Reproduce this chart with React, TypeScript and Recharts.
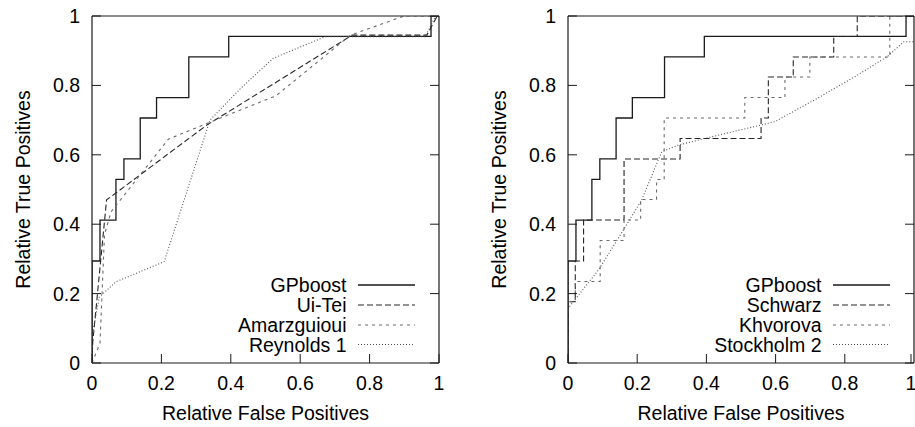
import React from 'react';
import { LineChart, Line, XAxis, YAxis, Legend } from 'recharts';

const TICKS = [0, 0.2, 0.4, 0.6, 0.8, 1];
const TICK_LABELS = ['0', '0.2', '0.4', '0.6', '0.8', '1'];

// [relative false positives, relative true positives]
const gpboost = [
  [0, 0], [0, 0.294], [0.023, 0.294], [0.023, 0.412], [0.069, 0.412], [0.069, 0.529],
  [0.092, 0.529], [0.092, 0.588], [0.139, 0.588], [0.139, 0.706], [0.186, 0.706],
  [0.186, 0.765], [0.279, 0.765], [0.279, 0.882], [0.394, 0.882], [0.394, 0.941],
  [0.977, 0.941], [0.977, 1], [1, 1],
];
const uiTei = [
  [0, 0], [0.002, 0.058], [0.042, 0.47], [0.33, 0.685], [0.75, 0.945],
  [0.965, 0.945], [0.995, 1], [1, 1],
];
const amarzguioui = [
  [0, 0], [0.023, 0.057], [0.036, 0.37], [0.055, 0.436], [0.22, 0.645], [0.33, 0.69],
  [0.53, 0.77], [0.745, 0.945], [0.9, 1], [1, 1],
];
const reynolds1 = [
  [0, 0], [0, 0.076], [0.021, 0.19], [0.069, 0.234], [0.208, 0.292], [0.34, 0.7],
  [0.427, 0.79], [0.522, 0.878], [0.671, 0.94], [0.96, 0.94], [0.99, 1], [1, 1],
];
const schwarz = [
  [0, 0], [0, 0.177], [0.021, 0.177], [0.021, 0.294], [0.045, 0.294], [0.045, 0.412],
  [0.162, 0.412], [0.162, 0.588], [0.324, 0.588], [0.324, 0.647], [0.558, 0.647],
  [0.558, 0.706], [0.579, 0.706], [0.579, 0.824], [0.651, 0.824], [0.651, 0.882],
  [0.768, 0.882], [0.768, 0.941], [0.836, 0.941], [0.836, 1], [1, 1],
];
const khvorova = [
  [0, 0], [0, 0.177], [0.021, 0.177], [0.021, 0.235], [0.093, 0.235], [0.093, 0.353],
  [0.162, 0.353], [0.162, 0.412], [0.21, 0.412], [0.21, 0.471], [0.256, 0.471],
  [0.256, 0.529], [0.278, 0.529], [0.278, 0.706], [0.511, 0.706], [0.511, 0.765],
  [0.627, 0.765], [0.627, 0.824], [0.699, 0.824], [0.699, 0.882], [0.93, 0.882],
  [0.93, 1], [1, 1],
];
const stockholm2 = [
  [0, 0], [0, 0.157], [0.088, 0.268], [0.16, 0.383], [0.213, 0.47], [0.271, 0.609],
  [0.319, 0.628], [0.415, 0.652], [0.597, 0.695], [0.712, 0.758], [0.837, 0.83],
  [0.923, 0.883], [0.971, 0.926], [1, 0.926],
];

const FONT = '"Liberation Sans", Arial, Helvetica, sans-serif';
const FS = 19.5;
const AXIS = '#1a1a1a';
const TICK_LEN = 9;

const STYLES: Record<string, { stroke: string; strokeWidth: number; strokeDasharray?: string }> = {
  solid: { stroke: '#1a1a1a', strokeWidth: 1.3 },
  dash: { stroke: '#262626', strokeWidth: 1.1, strokeDasharray: '6 3' },
  shortDash: { stroke: '#6a6a6a', strokeWidth: 1.1, strokeDasharray: '3 4' },
  dot: { stroke: '#555', strokeWidth: 1.1, strokeDasharray: '1 2' },
};

const toPoints = (pairs: number[][]) => pairs.map(([fp, tp]) => ({ fp, tp }));

const leftSeries = [
  { name: 'GPboost', data: toPoints(gpboost), style: 'solid' },
  { name: 'Ui-Tei', data: toPoints(uiTei), style: 'dash' },
  { name: 'Amarzguioui', data: toPoints(amarzguioui), style: 'shortDash' },
  { name: 'Reynolds 1', data: toPoints(reynolds1), style: 'dot' },
];
const rightSeries = [
  { name: 'GPboost', data: toPoints(gpboost), style: 'solid' },
  { name: 'Schwarz', data: toPoints(schwarz), style: 'dash' },
  { name: 'Khvorova', data: toPoints(khvorova), style: 'shortDash' },
  { name: 'Stockholm 2', data: toPoints(stockholm2), style: 'dot' },
];

const label = (v: number) => TICK_LABELS[TICKS.indexOf(v)] ?? String(v);

const BottomTick = ({ x, y, payload }: any) => (
  <g>
    <line x1={x} x2={x} y1={y} y2={y - TICK_LEN} stroke={AXIS} />
    <text x={x} y={y + 27} textAnchor="middle" fontSize={FS} fontFamily={FONT} fill="#000">
      {label(payload.value)}
    </text>
  </g>
);
const LeftTick = ({ x, y, payload }: any) => (
  <g>
    <line x1={x} x2={x + TICK_LEN} y1={y} y2={y} stroke={AXIS} />
    <text x={x - 12} y={y + 7} textAnchor="end" fontSize={FS} fontFamily={FONT} fill="#000">
      {label(payload.value)}
    </text>
  </g>
);
const TopTick = ({ x, y }: any) => <line x1={x} x2={x} y1={y} y2={y + TICK_LEN} stroke={AXIS} />;
const RightTick = ({ x, y }: any) => <line x1={x} x2={x - TICK_LEN} y1={y} y2={y} stroke={AXIS} />;

const LEGEND_ROWS = [285, 305, 325, 344.5];

const Panel = ({ series, width, marginLeft, marginRight, rightAxisWidth }: any) => {
  const plotRight = width - marginRight - rightAxisWidth;
  const textRight = plotRight - 92.5;
  const renderLegend = () => (
    <svg width={width} height={427} style={{ position: 'absolute', left: 0, top: 0 }}>
      {series.map((s: any, i: number) => (
        <g key={s.name}>
          <text x={textRight} y={LEGEND_ROWS[i] + 7} textAnchor="end" fontSize={FS} fontFamily={FONT} fill="#000">
            {s.name}
          </text>
          <line x1={plotRight - 81} x2={plotRight - 24} y1={LEGEND_ROWS[i]} y2={LEGEND_ROWS[i]} {...STYLES[s.style]} />
        </g>
      ))}
    </svg>
  );
  return (
    <LineChart width={width} height={427} margin={{ top: 6, right: marginRight, bottom: 7, left: marginLeft }}>
      <XAxis
        type="number" dataKey="fp" domain={[0, 1]} ticks={TICKS} allowDataOverflow
        height={57} tickSize={0} tickMargin={0} tickLine={false}
        axisLine={{ stroke: AXIS, strokeWidth: 1.2 }} tick={<BottomTick />}
        label={{
          content: ({ viewBox }: any) => (
            <text x={viewBox.x + viewBox.width / 2} y={viewBox.y + 57} textAnchor="middle" fontSize={FS} fontFamily={FONT} fill="#000">
              Relative False Positives
            </text>
          ),
        }}
      />
      <XAxis
        xAxisId="top" orientation="top" type="number" domain={[0, 1]} ticks={TICKS} allowDataOverflow
        height={10} tickSize={0} tickMargin={0} tickLine={false}
        axisLine={{ stroke: AXIS, strokeWidth: 1.2 }} tick={<TopTick />}
      />
      <YAxis
        type="number" domain={[0, 1]} ticks={TICKS} allowDataOverflow
        width={40} tickSize={0} tickMargin={0} tickLine={false}
        axisLine={{ stroke: AXIS, strokeWidth: 1.2 }} tick={<LeftTick />}
        label={{
          content: ({ viewBox }: any) => {
            const lx = viewBox.x - 22;
            const ly = viewBox.y + viewBox.height / 2;
            return (
              <text x={lx} y={ly} transform={`rotate(-90 ${lx} ${ly})`} textAnchor="middle" fontSize={FS} fontFamily={FONT} fill="#000">
                Relative True Positives
              </text>
            );
          },
        }}
      />
      <YAxis
        yAxisId="right" orientation="right" type="number" domain={[0, 1]} ticks={TICKS} allowDataOverflow
        width={rightAxisWidth} tickSize={0} tickMargin={0} tickLine={false}
        axisLine={{ stroke: AXIS, strokeWidth: 1.2 }} tick={<RightTick />}
      />
      {series.map((s: any) => (
        <Line
          key={s.name} name={s.name} data={s.data} dataKey="tp" type="linear"
          dot={false} activeDot={false} isAnimationActive={false} {...STYLES[s.style]}
        />
      ))}
      <Legend
        layout="vertical" align="center" verticalAlign="middle" content={renderLegend}
        wrapperStyle={{ position: 'absolute', left: 0, top: 0, width, height: 427, pointerEvents: 'none' }}
      />
    </LineChart>
  );
};

export default function App() {
  return (
    <div style={{ position: 'absolute', left: 0, top: 0, width: 915, height: 427, background: '#fff', overflow: 'hidden' }}>
      <div style={{ position: 'absolute', left: 0, top: 0 }}>
        <Panel series={leftSeries} width={460} marginLeft={52} marginRight={11} rightAxisWidth={10} />
      </div>
      <div style={{ position: 'absolute', left: 460, top: 0 }}>
        <Panel series={rightSeries} width={455} marginLeft={68} marginRight={0} rightAxisWidth={1} />
      </div>
    </div>
  );
}
